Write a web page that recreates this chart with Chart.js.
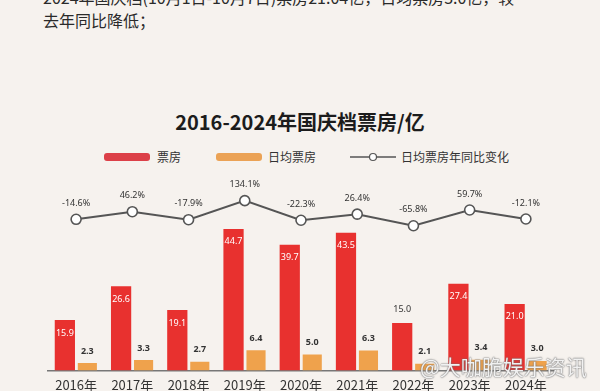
<!DOCTYPE html>
<html>
<head>
<meta charset="utf-8">
<script src="https://cdn.jsdelivr.net/npm/chart.js@4.4.1/dist/chart.umd.min.js"></script>
<style>
  html, body { margin: 0; padding: 0; width: 600px; height: 391px; overflow: hidden; background: #f6f2ee; }
  body { position: relative; font-family: "Noto Sans CJK SC", "Noto Sans", sans-serif; color: #222; }
  .intro { position: absolute; left: 43px; top: -14px; font-size: 16px; line-height: 23px; color: #2a2a2a; white-space: nowrap; }
  .title { position: absolute; left: 0; width: 600px; top: 107px; text-align: center; font-size: 20px; font-weight: bold; color: #1c1c1c; }
  .legend { position: absolute; top: 149px; left: 104px; height: 16px; font-size: 12px; color: #333; }
  .legend span { position: absolute; top: 0; white-space: nowrap; line-height: 16px; }
  .sw { position: absolute; top: 4px; width: 46px; height: 8px; border-radius: 3px; }
  .wm { position: absolute; left: 420px; top: 351px; font-size: 21px; color: rgba(255,255,255,0.9);
        text-shadow: 0 0 2px #777, 0 0 1px #555; white-space: nowrap; }
  #wrap { position: absolute; left: 0; top: 0; width: 600px; height: 405px; }
</style>
</head>
<body>
<div class="intro">2024年国庆档(10月1日-10月7日)票房21.04亿，日均票房3.0亿，较<br>去年同比降低；</div>
<div class="title">2016-2024年国庆档票房/亿</div>
<div class="legend">
  <div class="sw" style="left:0; background:#dc4048;"></div>
  <span style="left:53px;">票房</span>
  <div class="sw" style="left:112px; background:#eba255;"></div>
  <span style="left:164px;">日均票房</span>
  <svg style="position:absolute; left:246px; top:2px;" width="46" height="12">
    <line x1="0" y1="6" x2="46" y2="6" stroke="#555" stroke-width="1.5"/>
    <circle cx="23" cy="6" r="3.5" fill="#fff" stroke="#555" stroke-width="1.2"/>
  </svg>
  <span style="left:297px;">日均票房年同比变化</span>
</div>
<div id="wrap"><canvas id="myChart"></canvas></div>
<div class="wm">@大咖脆娱乐资讯</div>
<script>
const years = ["2016年", "2017年", "2018年", "2019年", "2020年", "2021年", "2022年", "2023年", "2024年"];
const boxOffice = [15.9, 26.6, 19.1, 44.7, 39.7, 43.5, 15.0, 27.4, 21.0];
const dailyBox = [2.3, 3.3, 2.7, 6.4, 5.0, 6.3, 2.1, 3.4, 3.0];
const dailyYoY = [-14.6, 46.2, -17.9, 134.1, -22.3, 26.4, -65.8, 59.7, -12.1];
// bars whose value label sits above instead of inside
const labelAbove = [false, false, false, false, false, false, true, false, false];

const valueLabels = {
  id: "valueLabels",
  afterDatasetsDraw(chart) {
    const ctx = chart.ctx;
    ctx.save();
    ctx.textAlign = "center";
    ctx.textBaseline = "middle";
    chart.getDatasetMeta(0).data.forEach((el, i) => {
      ctx.font = "9px 'Noto Sans', sans-serif";
      if (labelAbove[i]) {
        ctx.fillStyle = "#333";
        ctx.fillText(boxOffice[i].toFixed(1), el.x, el.y - 13);
      } else {
        ctx.fillStyle = "#fff";
        ctx.fillText(boxOffice[i].toFixed(1), el.x, el.y + 13);
      }
    });
    chart.getDatasetMeta(1).data.forEach((el, i) => {
      ctx.font = "bold 9px 'Noto Sans', sans-serif";
      ctx.fillStyle = "#333";
      ctx.fillText(dailyBox[i].toFixed(1), el.x, el.y - 12);
    });
    chart.getDatasetMeta(2).data.forEach((el, i) => {
      ctx.font = "9px 'Noto Sans', sans-serif";
      ctx.fillStyle = "#333";
      ctx.fillText(dailyYoY[i].toFixed(1) + "%", el.x, el.y - 16);
    });
    ctx.restore();
  },
};

let myCt = document.getElementById("myChart");
let myChart = new Chart(myCt, {
  type: "bar",
  data: {
    labels: years,
    datasets: [
      {
        label: "票房",
        data: boxOffice,
        backgroundColor: "#e8312f",
        yAxisID: "y",
        categoryPercentage: 0.8,
        barPercentage: 0.9,
        order: 2,
      },
      {
        label: "日均票房",
        data: dailyBox,
        backgroundColor: "#efa24c",
        yAxisID: "y",
        categoryPercentage: 0.8,
        barPercentage: 0.85,
        order: 2,
      },
      {
        type: "line",
        label: "日均票房年同比变化",
        data: dailyYoY,
        yAxisID: "y2",
        borderColor: "#555",
        borderWidth: 2,
        pointRadius: 5,
        pointBackgroundColor: "#fff",
        pointBorderColor: "#555",
        pointBorderWidth: 1.6,
        tension: 0,
        clip: false,
        order: 1,
      },
    ],
  },
  options: {
    responsive: true,
    maintainAspectRatio: false,
    animation: false,
    layout: { padding: { top: 190, left: 48, right: 46, bottom: 5 } },
    plugins: {
      legend: { display: false },
      tooltip: { enabled: false },
    },
    scales: {
      x: {
        grid: { display: false, drawTicks: false },
        border: { display: true, color: "#777", width: 1.5 },
        ticks: { color: "#333", padding: 7, font: { size: 13, family: "'Noto Sans CJK SC'" } },
      },
      y: { display: false, min: 0, max: 57 },
      y2: { display: false, min: -1219, max: 219 },
    },
  },
  plugins: [valueLabels],
});
</script>
</body>
</html>
